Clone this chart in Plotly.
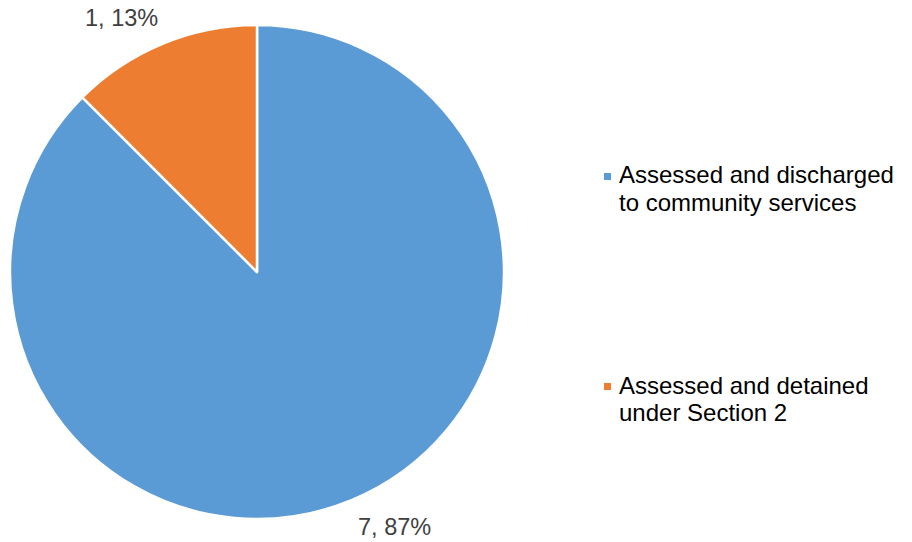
import plotly.graph_objects as go

# Outcome categories and counts
categories = ["Assessed and discharged to community services",
              "Assessed and detained under Section 2"]
legend_lines = [["Assessed and discharged", "to community services"],
                ["Assessed and detained", "under Section 2"]]
counts = [7, 1]
slice_labels = ["7, 87%", "1, 13%"]
colors = ["#5B9BD5", "#ED7D31"]

W, H = 912, 542
FONT = "Liberation Sans, Arial"

fig = go.Figure()
fig.add_trace(go.Pie(
    labels=categories,
    values=counts,
    sort=False,
    direction="clockwise",
    rotation=0,
    marker=dict(colors=colors, line=dict(color="white", width=2.5)),
    textinfo="none",
    hoverinfo="label+value+percent",
    showlegend=False,
    domain=dict(x=[10 / W, 504 / W], y=[23 / H, 517 / H]),
))

# Data labels placed outside the slices
label_pos = [(394, 527), (121, 18)]
for txt, (px, py) in zip(slice_labels, label_pos):
    fig.add_annotation(
        x=px / W, y=1 - py / H, xref="paper", yref="paper",
        text=txt, showarrow=False, xanchor="center", yanchor="middle",
        font=dict(family=FONT, size=23.5, color="#404040"),
    )

# Legend: square swatch + two text lines per category
legend_tops = [175, 385]
line_gap = 27.5
for lines, col, ty in zip(legend_lines, colors, legend_tops):
    fig.add_shape(
        type="rect", xref="paper", yref="paper",
        x0=604 / W, x1=611 / W, y0=1 - (ty - 2) / H, y1=1 - (ty + 5) / H,
        fillcolor=col, line=dict(width=0),
    )
    for i, line in enumerate(lines):
        fig.add_annotation(
            x=617 / W, y=1 - (ty + i * line_gap) / H, xref="paper", yref="paper",
            text=line, showarrow=False, xanchor="left", yanchor="middle", align="left",
            font=dict(family=FONT, size=24, color="#000000"),
        )

fig.update_layout(
    width=W, height=H,
    margin=dict(l=0, r=0, t=0, b=0),
    paper_bgcolor="white", plot_bgcolor="white",
)

fig.write_html("out.html")
